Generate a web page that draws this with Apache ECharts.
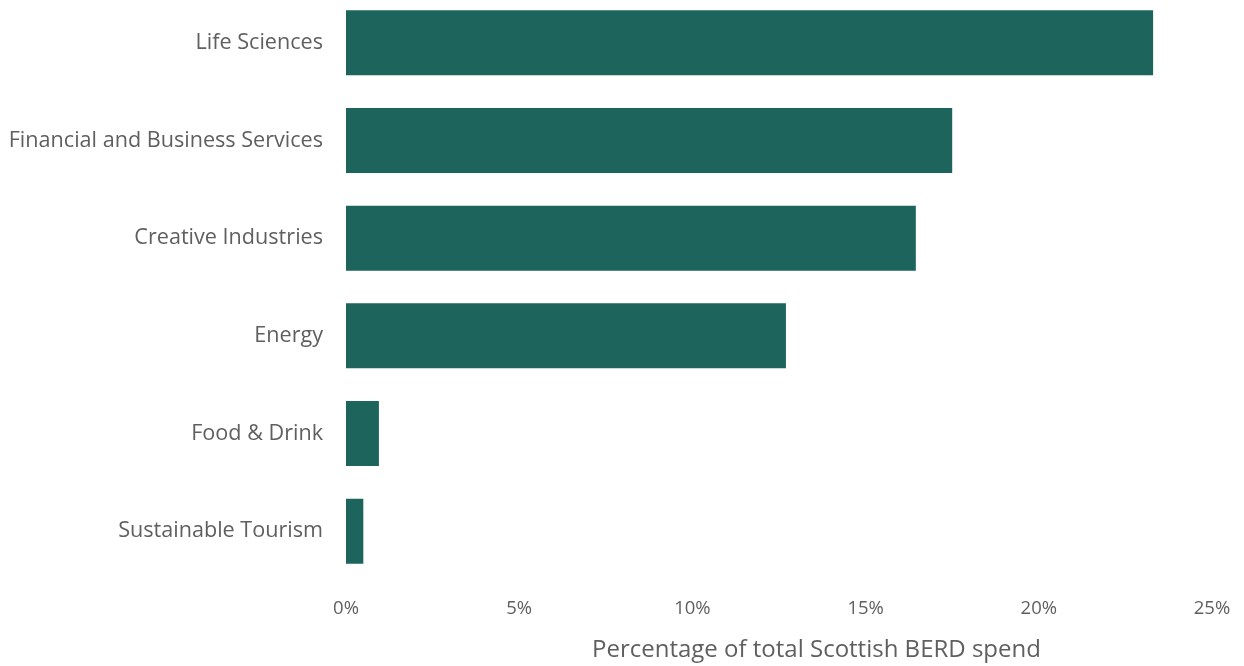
<!DOCTYPE html>
<html>
<head>
<meta charset="utf-8">
<script src="https://cdn.jsdelivr.net/npm/echarts@6/dist/echarts.min.js"></script>
<style>html,body{margin:0;padding:0;background:#fff;overflow:hidden}#c{width:1244px;height:672px;margin-top:-6px}</style>
</head>
<body>
<div id="c"></div>
<script>
const categories = ["Life Sciences","Financial and Business Services","Creative Industries","Energy","Food & Drink","Sustainable Tourism"];
const values = [23.3, 17.5, 16.45, 12.7, 0.95, 0.5];
const xTicks = [0, 5, 10, 15, 20, 25];
const axisTitle = "Percentage of total Scottish BERD spend";

const chart = echarts.init(document.getElementById('c'));
const font = "'Open Sans', sans-serif";
chart.setOption({
  animation: false,
  grid: { left: 346, right: 32, top: 0, bottom: 86, containLabel: false },
  xAxis: {
    type: 'value', min: xTicks[0], max: xTicks[xTicks.length-1], interval: 5,
    axisLine: { show: false }, axisTick: { show: false }, splitLine: { show: false },
    axisLabel: { formatter: v => v + '%', color: '#5f5f5f', fontSize: 18.5, fontFamily: font, margin: 19 }
  },
  yAxis: {
    type: 'category', data: categories, inverse: true,
    axisLine: { show: false }, axisTick: { show: false },
    axisLabel: { color: '#5f5f5f', fontSize: 21.6, fontFamily: font, margin: 23, padding: [5, 0, 0, 0] }
  },
  graphic: [{
    type: 'text', left: 592, top: 644,
    style: { text: axisTitle, fill: '#5f5f5f', fontSize: 24, fontFamily: font }
  }],
  series: [{
    type: 'bar', data: values, barCategoryGap: '33.5%',
    itemStyle: { color: '#1d645d' }
  }]
});
</script>
</body>
</html>
